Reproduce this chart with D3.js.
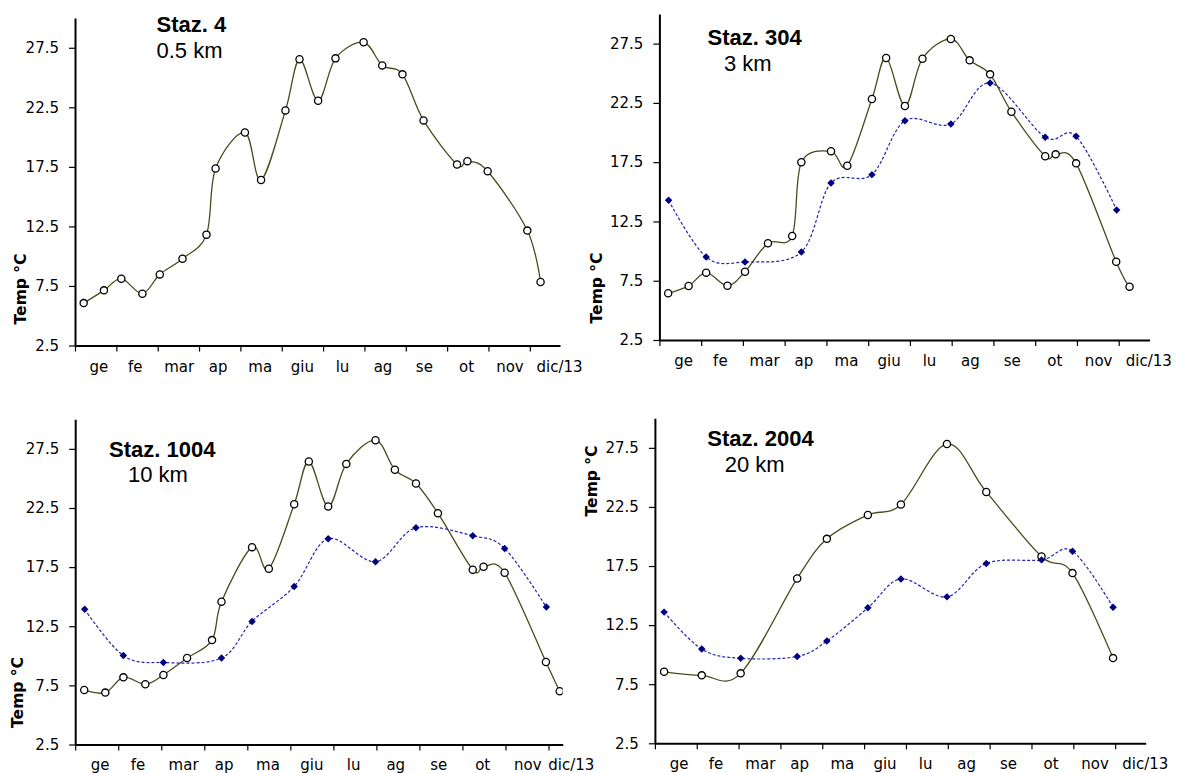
<!DOCTYPE html>
<html>
<head>
<meta charset="utf-8">
<script src="https://cdn.jsdelivr.net/npm/d3@7"></script>
<style>
  html, body { margin: 0; padding: 0; background: #fff; }
  svg { display: block; }
</style>
</head>
<body>
<svg id="chart" width="1177" height="773"></svg>
<script>
// Sampling times, in months since 1 January 2013
const surfaceMonths = [0.21, 0.70, 1.12, 1.63, 2.05, 2.60, 3.18, 3.40, 4.11, 4.50, 5.09, 5.43,
                       5.88, 6.30, 6.98, 7.43, 7.92, 8.43, 9.24, 9.49, 9.98, 10.94, 11.26];
const bottomMonths  = [0.22, 1.12, 2.05, 3.40, 4.11, 5.09, 5.88, 6.98, 7.92, 9.24, 9.98, 10.95];

// Month names shown under the time axis and where they sit (in months)
const monthLabels  = ["ge", "fe", "mar", "ap", "ma", "giu", "lu", "ag", "se", "ot", "nov", "dic/13"];
const monthLabelAt = [0.58, 1.46, 2.52, 3.46, 4.48, 5.50, 6.47, 7.45, 8.45, 9.47, 10.52, 11.72];
const monthTicks   = [0, 1, 2, 3, 4, 5, 6, 7, 8, 9, 10, 11];
const tempTicks    = [2.5, 7.5, 12.5, 17.5, 22.5, 27.5];
const tempRange    = [2.5, 30];

// Temperatures (°C)
const staz4Surface    = [6.06, 7.13, 8.11, 6.85, 8.47, 9.79, 11.81, 17.36, 20.39, 16.40, 22.24, 26.53,
                         23.05, 26.61, 27.96, 26.02, 25.27, 21.40, 17.70, 17.98, 17.13, 12.15, 7.83];
const staz304Surface  = [6.44, 7.06, 8.18, 7.08, 8.26, 10.66, 11.27, 17.49, 18.42, 17.20, 22.83, 26.29,
                         22.24, 26.23, 27.89, 26.09, 24.91, 21.76, 18.00, 18.16, 17.40, 9.10, 7.00];
const staz304Bottom   = [14.28, 9.50, 9.08, 9.92, 15.74, 16.45, 21.00, 20.72, 24.18, 19.60, 19.68, 13.47];
const staz1004Surface = [7.11, 6.89, 8.18, 7.59, 8.38, 9.81, 11.33, 14.58, 19.19, 17.36, 22.82, 26.43,
                         22.63, 26.23, 28.23, 25.73, 24.57, 22.06, 17.28, 17.53, 17.03, 9.48, 7.00];
const staz1004Bottom  = [13.93, 10.02, 9.43, 9.81, 12.91, 15.87, 19.90, 17.96, 20.83, 20.15, 19.08, 14.12];
const staz2004Surface = [8.55, 8.25, 8.42, 16.45, 19.80, 21.82, 22.70, 27.83, 23.77, 18.31, 16.90, 9.71];
const staz2004Bottom  = [13.60, 10.47, 9.69, 9.85, 11.15, 13.96, 16.41, 14.89, 17.72, 18.02, 18.76, 14.02];

const stations = [
  { name: "Staz. 4",    dist: "0.5 km", surface: [surfaceMonths, staz4Surface],    bottom: null },
  { name: "Staz. 304",  dist: "3 km",   surface: [surfaceMonths, staz304Surface],  bottom: [bottomMonths, staz304Bottom] },
  { name: "Staz. 1004", dist: "10 km",  surface: [surfaceMonths, staz1004Surface], bottom: [bottomMonths, staz1004Bottom] },
  { name: "Staz. 2004", dist: "20 km",  surface: [bottomMonths, staz2004Surface],  bottom: [bottomMonths, staz2004Bottom] }
];

// Panel geometry (page pixels)
const layout = [
  { left: 75,    right: 560,    top: 18,    bottom: 345.5, xMax: 11.73, title: [156.5, 31.5],  sub: [156.5, 58.3], yLab: [21, 289] },
  { left: 659.4, right: 1149.6, top: 14,    bottom: 340,   xMax: 11.74, title: [707.5, 45],    sub: [724, 70.7],   yLab: [597.4, 288] },
  { left: 75.2,  right: 562.7,  top: 419.3, bottom: 744.5, xMax: 11.33, title: [109, 456.7],   sub: [128, 482],    yLab: [17.9, 692.5] },
  { left: 654.9, right: 1145.7, top: 418.3, bottom: 743.3, xMax: 11.73, title: [707.3, 445.7], sub: [724.7, 472.3], yLab: [592, 481] }
];

const tickFont  = "'DejaVu Sans', Verdana, sans-serif";
const titleFont = "'Liberation Sans', Arial, sans-serif";
const surfaceColor = "#4b4b1b";
const bottomLine   = "#2323b0";
const bottomMark   = "#000080";

const svg = d3.select("#chart");
svg.append("rect").attr("width", 1177).attr("height", 773).attr("fill", "#fff");

const zip = (xs, ys) => xs.map((x, i) => ({ x, y: ys[i] }));

stations.forEach((st, i) => {
  const L = layout[i];
  const w = L.right - L.left, h = L.bottom - L.top;
  const x = d3.scaleLinear().domain([0, L.xMax]).range([0, w]);
  const y = d3.scaleLinear().domain(tempRange).range([h, 0]);

  const g = svg.append("g").attr("transform", `translate(${L.left},${L.top})`);

  const clipId = "clip" + i;
  g.append("clipPath").attr("id", clipId)
    .append("rect").attr("x", 0).attr("y", -12).attr("width", w).attr("height", h + 12);

  // Axes
  const yAxis = g.append("g")
    .call(d3.axisLeft(y).tickValues(tempTicks).tickFormat(d3.format(".1f"))
      .tickSize(6).tickSizeOuter(0).tickPadding(10));
  const xAxis = g.append("g").attr("transform", `translate(0,${h})`)
    .call(d3.axisBottom(x).tickValues(monthTicks).tickFormat("")
      .tickSize(6).tickSizeOuter(0));
  [yAxis, xAxis].forEach(a => {
    a.select(".domain").attr("stroke", "#000").attr("stroke-width", 2);
    a.selectAll(".tick line").attr("stroke", "#000").attr("stroke-width", 1.2);
  });
  yAxis.selectAll(".tick text")
    .attr("font-family", tickFont).attr("font-size", 15).attr("fill", "#000");

  // Month names; the closing "dic/13" sits just past the end of the axis
  g.append("g").selectAll("text").data(monthLabels).join("text")
    .attr("x", (d, k) => x(Math.min(monthLabelAt[k], L.xMax + 0.2)))
    .attr("y", h + 26)
    .attr("text-anchor", "middle")
    .attr("font-family", tickFont).attr("font-size", 15)
    .text(d => d);

  // Axis title
  svg.append("text")
    .attr("transform", `translate(${L.yLab[0]},${L.yLab[1]}) rotate(-90)`)
    .attr("text-anchor", "middle").attr("dominant-baseline", "central")
    .attr("font-family", tickFont).attr("font-weight", "bold").attr("font-size", 15.5)
    .text("Temp °C");

  // Station name and distance
  svg.append("text").attr("x", L.title[0]).attr("y", L.title[1])
    .attr("font-family", titleFont).attr("font-weight", "bold").attr("font-size", 22)
    .text(st.name);
  svg.append("text").attr("x", L.sub[0]).attr("y", L.sub[1])
    .attr("font-family", titleFont).attr("font-size", 22)
    .text(st.dist);

  const plot = g.append("g").attr("clip-path", `url(#${clipId})`);
  const line = d3.line().x(d => x(d.x)).y(d => y(d.y)).curve(d3.curveCatmullRom.alpha(0));

  // Surface series: solid olive line, open circles
  const surf = zip(st.surface[0], st.surface[1]);
  plot.append("path").datum(surf).attr("d", line)
    .attr("fill", "none").attr("stroke", surfaceColor).attr("stroke-width", 1.3);
  plot.append("g").selectAll("circle").data(surf).join("circle")
    .attr("cx", d => x(d.x)).attr("cy", d => y(d.y)).attr("r", 3.6)
    .attr("fill", "#fff").attr("stroke", "#000").attr("stroke-width", 1.3);

  // Bottom series: dashed blue line, filled diamonds
  if (st.bottom) {
    const bot = zip(st.bottom[0], st.bottom[1]);
    plot.append("path").datum(bot).attr("d", line)
      .attr("fill", "none").attr("stroke", bottomLine).attr("stroke-width", 1.2)
      .attr("stroke-dasharray", "3,2");
    const diamond = d3.symbol(d3.symbolSquare, 28);
    plot.append("g").selectAll("path").data(bot).join("path")
      .attr("d", diamond)
      .attr("transform", d => `translate(${x(d.x)},${y(d.y)}) rotate(45)`)
      .attr("fill", bottomMark);
  }
});
</script>
</body>
</html>
